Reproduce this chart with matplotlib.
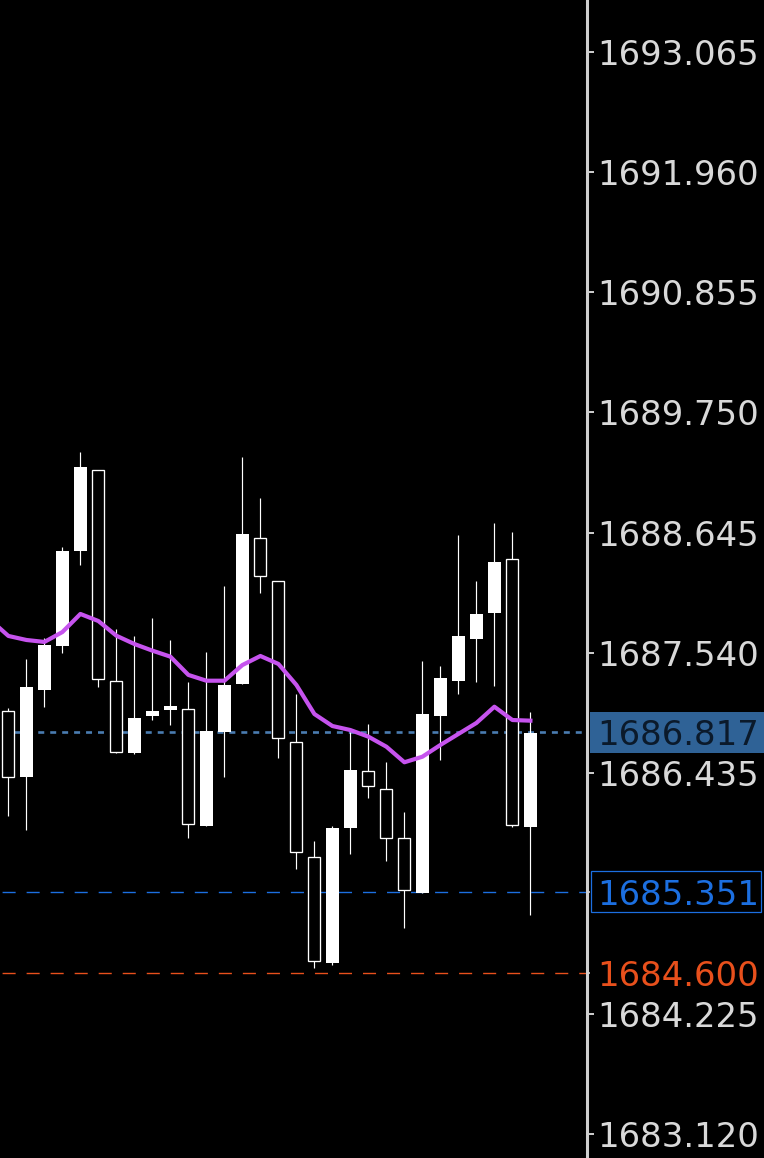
# plot.py
# Candlestick chart with moving average and price levels on a black background.

import matplotlib

matplotlib.use("Agg")

import matplotlib.pyplot as plt
from matplotlib.patches import Rectangle

body_top = [
    1687.009, 1687.232, 1687.618, 1688.478, 1689.252, 1689.219, 1687.282, 1686.945, 1687.009, 1687.058,
    1687.027, 1686.825, 1687.248, 1688.634, 1688.595, 1688.200, 1686.722, 1685.665, 1685.935, 1686.467,
    1686.455, 1686.290, 1685.840, 1686.981, 1687.312, 1687.698, 1687.900, 1688.380, 1688.402, 1686.810,
]
body_bottom = [
    1686.406, 1686.406, 1687.205, 1687.609, 1688.481, 1687.300, 1686.630, 1686.626, 1686.963, 1687.018,
    1685.969, 1685.956, 1686.819, 1687.260, 1688.246, 1686.758, 1685.711, 1684.710, 1684.698, 1685.937,
    1686.317, 1685.840, 1685.362, 1685.340, 1686.966, 1687.287, 1687.673, 1687.912, 1685.965, 1685.946,
]
wick_high = [
    1687.036, 1687.486, 1687.679, 1688.515, 1689.387, 1689.219, 1687.762, 1687.698, 1687.863, 1687.661,
    1687.275, 1687.553, 1688.157, 1689.339, 1688.962, 1688.200, 1687.165, 1685.815, 1685.953, 1686.819,
    1686.890, 1686.538, 1686.079, 1687.468, 1687.422, 1688.625, 1688.203, 1688.738, 1688.650, 1687.000,
]
wick_low = [
    1686.045, 1685.916, 1687.048, 1687.544, 1688.350, 1687.232, 1686.620, 1686.617, 1686.926, 1686.880,
    1685.845, 1685.956, 1686.406, 1687.260, 1688.090, 1686.580, 1685.561, 1684.652, 1684.676, 1685.693,
    1686.213, 1685.634, 1685.019, 1685.340, 1686.562, 1687.162, 1687.278, 1687.241, 1685.946, 1685.138,
]
filled = [
    False, True, True, True, True, False, False, True, True, True,
    False, True, True, True, False, False, False, False, True, True,
    False, False, False, True, True, True, True, True, False, True,
]

# starts one candle before the first visible one
ma_values = [
    1687.845, 1687.698, 1687.661, 1687.643, 1687.734, 1687.900, 1687.835, 1687.700, 1687.624, 1687.563,
    1687.508, 1687.340, 1687.287, 1687.287, 1687.431, 1687.514, 1687.441, 1687.248, 1686.981, 1686.871,
    1686.834, 1686.773, 1686.681, 1686.538, 1686.589, 1686.697, 1686.798, 1686.899, 1687.048, 1686.926,
    1686.920,
]

tick_labels = [
    "1693.065", "1691.960", "1690.855", "1689.750", "1688.645",
    "1687.540", "1686.435", "1684.225", "1683.120",
]
current_price = 1686.817
blue_level = 1685.351
red_level = 1684.600

BG = "#000000"
CANDLE = "#ffffff"
AXIS = "#cfcfcf"
LABEL = "#d9d9d9"
MA_COLOR = "#c653ee"
CURRENT_LINE = "#4a7cb0"
CURRENT_BOX = "#2f6296"
CURRENT_TEXT = "#0b1a2b"
BLUE = "#1c6fe0"
RED = "#e8501c"
FONT_SIZE = 24.4

plt.rcParams["lines.scale_dashes"] = False
plt.rcParams["font.family"] = ["DejaVu Sans"]

fig = plt.figure(figsize=(7.64, 11.58), dpi=100, facecolor=BG)
ax = fig.add_axes([0, 0, 586.5 / 764, 1], facecolor=BG)

x = list(range(len(body_top)))

# price levels sit under the candles
ax.axhline(current_price, color=CURRENT_LINE, lw=1.9, ls=(7.2, (4.3, 4.3)), zorder=1)
ax.axhline(blue_level, color=BLUE, lw=1.0, ls=(15.8, (9.4, 7.9)), zorder=1)
ax.axhline(red_level, color=RED, lw=1.0, ls=(15.8, (9.4, 7.9)), zorder=1)

ax.vlines(x, wick_low, wick_high, color=CANDLE, lw=0.85, zorder=2)
heights = [top - bottom for top, bottom in zip(body_top, body_bottom)]
for i in x:
    if filled[i]:
        ax.bar(i, heights[i], bottom=body_bottom[i], width=0.72, color=CANDLE, lw=0, zorder=3)
    else:
        ax.bar(i, heights[i], bottom=body_bottom[i], width=0.67, facecolor=BG,
               edgecolor=CANDLE, lw=0.95, zorder=3)

ax.plot(list(range(-1, len(body_top))), ma_values, color=MA_COLOR, lw=3.0, zorder=4,
        solid_joinstyle="round")

ax.set_xlim(-8.4 / 18, (586.5 - 8.4) / 18)
ax.set_ylim(1682.904, 1693.538)
ax.set_xticks([])

for side in ["top", "left", "bottom"]:
    ax.spines[side].set_visible(False)
ax.spines["right"].set_color(AXIS)
ax.spines["right"].set_linewidth(2.2)

tick_prices = [float(label) for label in tick_labels]
ax.yaxis.tick_right()
ax.set_yticks(tick_prices, tick_labels)
ax.tick_params(axis="y", which="major", length=0, pad=7.5, labelcolor=LABEL, labelsize=FONT_SIZE)

# tick stubs next to the axis line
axis_trans = ax.get_yaxis_transform()
ax.hlines(tick_prices, 1, 1 + 7 / 586.5, transform=axis_trans, color=AXIS, lw=1.4, clip_on=False, zorder=5)
ax.hlines([blue_level, red_level], 1, 1 + 3.5 / 586.5, transform=axis_trans, color=AXIS, lw=1.2,
          clip_on=False, zorder=5)

# boxes behind the highlighted price labels
fig.add_artist(Rectangle((590 / 764, 1 - 753 / 1158), 174 / 764, 41 / 1158,
                         transform=fig.transFigure, facecolor=CURRENT_BOX, edgecolor="none", zorder=-1))
fig.add_artist(Rectangle((590.5 / 764, 1 - 912 / 1158), 170.5 / 764, 41 / 1158,
                         transform=fig.transFigure, facecolor="none", edgecolor=BLUE, lw=0.9, zorder=-1))

for price, color in [(current_price, CURRENT_TEXT), (blue_level, BLUE), (red_level, RED)]:
    ax.annotate(f"{price:.3f}", xy=(1, price), xycoords=axis_trans, xytext=(7.5, 0),
                textcoords="offset points", ha="left", va="center_baseline", color=color,
                fontsize=FONT_SIZE, annotation_clip=False, zorder=6)

fig.savefig("out.png", dpi=100, facecolor=BG)
plt.close(fig)
